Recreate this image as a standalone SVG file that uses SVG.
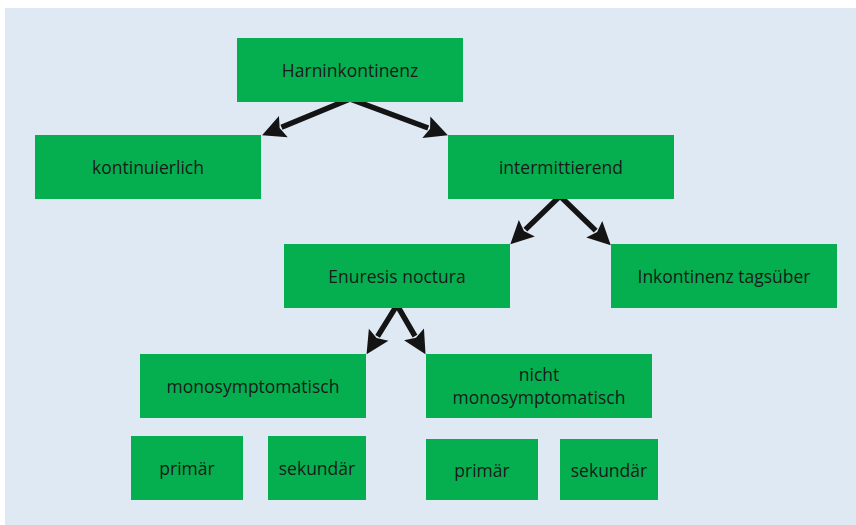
<svg xmlns="http://www.w3.org/2000/svg" width="856" height="525" viewBox="0 0 856 525">
<defs>
<style>
.box{fill:#05af50}
.lbl{font-family:"Open Sans","Liberation Sans",sans-serif;font-size:17.5px;fill:#1a1a1a;text-anchor:middle}
.con{fill:none;stroke:#141414;stroke-width:5.5;stroke-linejoin:miter;stroke-miterlimit:10}
</style>
<marker id="ah" markerUnits="userSpaceOnUse" markerWidth="34" markerHeight="34" viewBox="-6 -17 34 34" refX="0" refY="0" orient="auto-start-reverse">
<path d="M21,0 L-2,-11.5 L2,0 L-2,11.5 Z" fill="#141414"/>
</marker>
</defs>
<rect x="5" y="8" width="851" height="517" fill="#dfe9f3"/>
<g id="connectors">
<path class="con" d="M281.5,127.3 L350,99 L428.2,128" marker-start="url(#ah)" marker-end="url(#ah)"/>
<path class="con" d="M525.4,229.6 L560,196 L595.7,230.6" marker-start="url(#ah)" marker-end="url(#ah)"/>
<path class="con" d="M377.6,336.4 L397,305 L415,336.1" marker-start="url(#ah)" marker-end="url(#ah)"/>
</g>
<g id="n-harninkontinenz"><rect class="box" x="237" y="38" width="226" height="64"/><text class="lbl" x="350" y="76.5">Harninkontinenz</text></g>
<g id="n-kontinuierlich"><rect class="box" x="35" y="135" width="226" height="64"/><text class="lbl" x="148" y="173.5">kontinuierlich</text></g>
<g id="n-intermittierend"><rect class="box" x="448" y="135" width="226" height="64"/><text class="lbl" x="561" y="173.5">intermittierend</text></g>
<g id="n-enuresis"><rect class="box" x="284" y="244" width="226" height="64"/><text class="lbl" x="397" y="282.5">Enuresis noctura</text></g>
<g id="n-tagsueber"><rect class="box" x="611" y="244" width="226" height="64"/><text class="lbl" x="724" y="282.5">Inkontinenz tagsüber</text></g>
<g id="n-mono"><rect class="box" x="140" y="354" width="226" height="64"/><text class="lbl" x="253" y="392.5">monosymptomatisch</text></g>
<g id="n-nichtmono"><rect class="box" x="426" y="354" width="226" height="64"/><text class="lbl" x="539" y="380.5">nicht</text><text class="lbl" x="539" y="404">monosymptomatisch</text></g>
<g id="n-primaer1"><rect class="box" x="131" y="436" width="112" height="64"/><text class="lbl" x="187" y="475">primär</text></g>
<g id="n-sekundaer1"><rect class="box" x="268" y="436" width="98" height="64"/><text class="lbl" x="317" y="475">sekundär</text></g>
<g id="n-primaer2"><rect class="box" x="426" y="439" width="112" height="61"/><text class="lbl" x="482" y="476.5">primär</text></g>
<g id="n-sekundaer2"><rect class="box" x="560" y="439" width="98" height="61"/><text class="lbl" x="609" y="476.5">sekundär</text></g>
</svg>
